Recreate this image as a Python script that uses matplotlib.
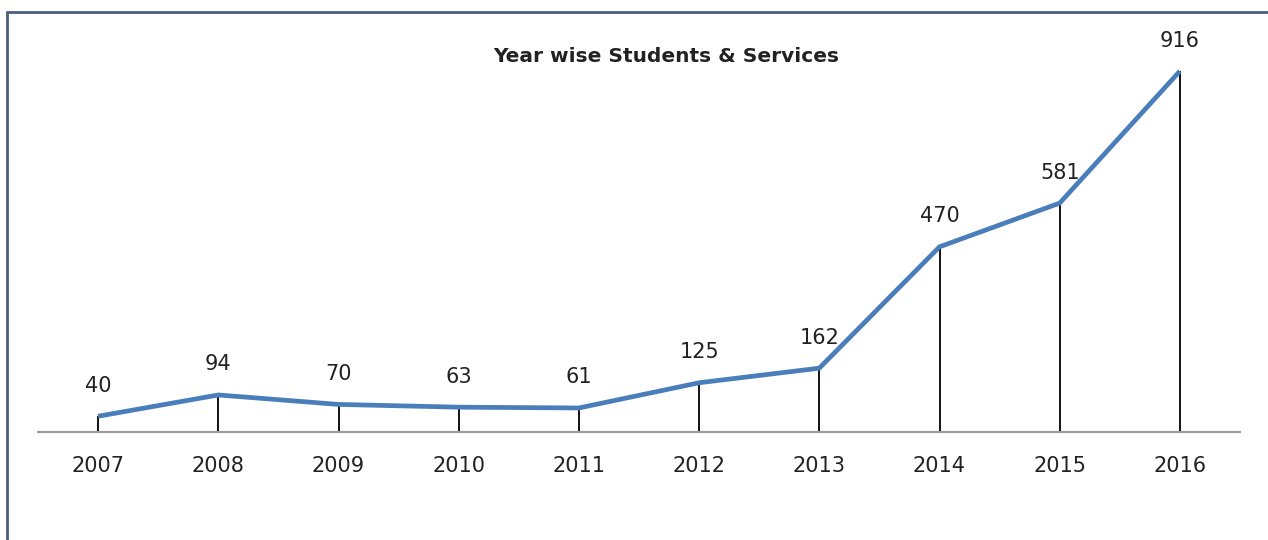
import matplotlib
matplotlib.use("Agg")
import matplotlib.pyplot as plt
from matplotlib.patches import Rectangle

plt.rcParams["font.family"] = ["DejaVu Sans"]

years = ["2007", "2008", "2009", "2010", "2011", "2012", "2013", "2014", "2015", "2016"]
values = [40, 94, 70, 63, 61, 125, 162, 470, 581, 916]

W, H = 1268, 540
fig = plt.figure(figsize=(W / 100, H / 100), dpi=100)
fig.patch.set_facecolor("white")

# outer frame (only top/left visible, rest runs off the picture)
fig.patches.append(Rectangle((7 / W, -0.1), 1.2, 1 - 12 / H + 0.1,
                             transform=fig.transFigure, fill=False,
                             edgecolor="#4a5f80", linewidth=2.0))

ax = fig.add_axes([38 / W, 1 - 432 / H, 1202 / W, (432 - 38) / H])
x = list(range(len(years)))

ax.vlines(x, 0, values, color="black", linewidth=1.3, zorder=2)
ax.plot(x, values, color="#4a7ebb", linewidth=3.4, solid_capstyle="butt", zorder=3)

for xi, v in zip(x, values):
    ax.annotate(str(v), (xi, v), xytext=(0, 22), textcoords="offset points",
                ha="center", va="center", fontsize=15, color="#222222")

ax.set_xlim(-0.5, 9.5)
ax.set_ylim(0, 1000)
ax.set_xticks(x)
ax.set_xticklabels(years, fontsize=15, color="#222222")
ax.tick_params(axis="x", length=0, pad=17)
ax.set_yticks([])
for s in ["top", "right", "left"]:
    ax.spines[s].set_visible(False)
ax.spines["bottom"].set_color("#999999")
ax.spines["bottom"].set_linewidth(1.5)

fig.text(666 / W, 1 - 57 / H, "Year wise Students & Services", ha="center", va="center",
         fontsize=14.5, fontweight="bold", color="#222222")

fig.savefig("out.png", dpi=100)
